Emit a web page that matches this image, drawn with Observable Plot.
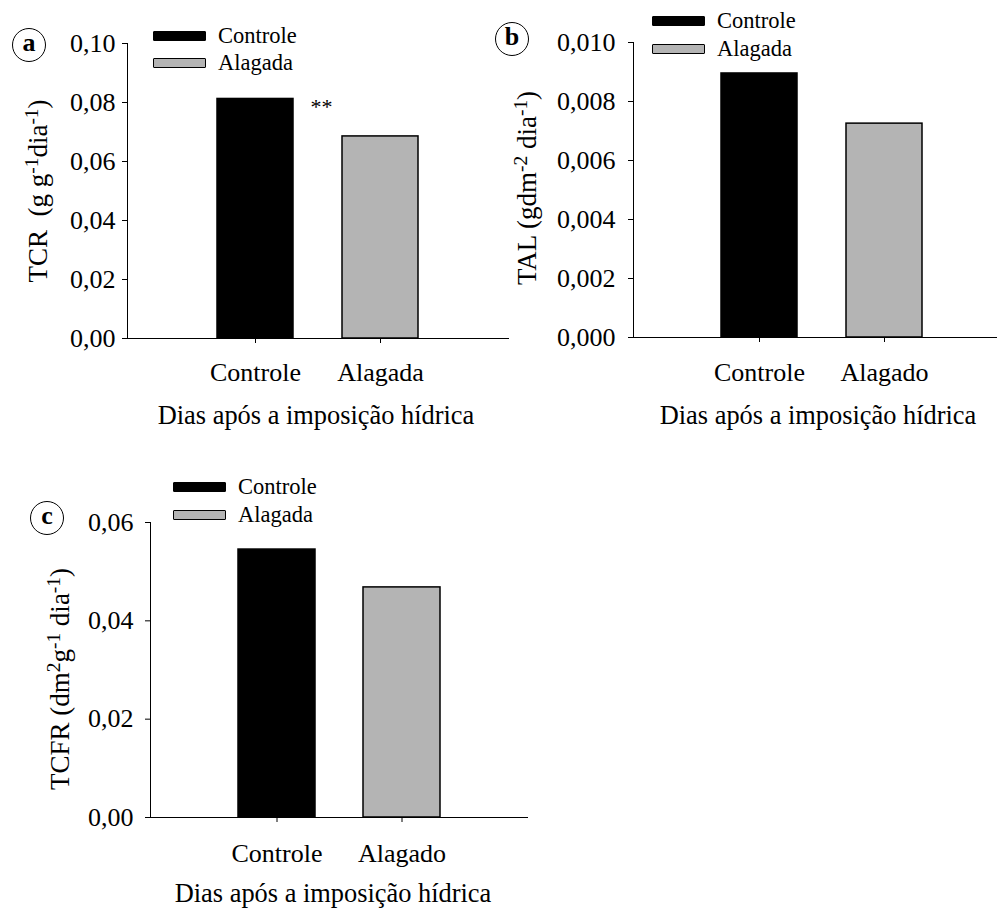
<!DOCTYPE html>
<html>
<head>
<meta charset="utf-8">
<script src="https://cdn.jsdelivr.net/npm/d3@7"></script>
<script src="https://cdn.jsdelivr.net/npm/@observablehq/plot@0.6"></script>
<style>
  html, body { margin: 0; padding: 0; background: #fff; overflow: hidden; }
  #root { position: relative; width: 997px; height: 915px; font-family: "Liberation Serif", "Times New Roman", serif; color: #000; }
  .abs { position: absolute; white-space: nowrap; line-height: 1; }
  .ylab { transform: translate(-50%, -50%) rotate(-90deg); font-size: 27px; }
  .xlab { transform: translate(-50%, -50%); font-size: 26.4px; }
  .sup { font-size: 0.72em; position: relative; top: -0.45em; }
  .letter { transform: translate(-50%, -50%); width: 34px; height: 34px; border: 1.8px solid #000; border-radius: 50%;
            font-weight: bold; font-size: 26px; display: flex; align-items: center; justify-content: center; box-sizing: border-box; padding-bottom: 4px; }
  .sw { position: absolute; width: 53px; height: 10px; box-sizing: border-box; border-radius: 1px; }
  .legtxt { font-size: 22.5px; transform: translateY(-50%); }
  svg { position: absolute; }
</style>
</head>
<body>
<div id="root"></div>
<script>
// ---- data ----
const catsA = ["Controle", "Alagada"];
const catsB = ["Controle", "Alagado"];
const catsC = ["Controle", "Alagado"];
const tcr  = [0.0812, 0.0685];
const tal  = [0.00895, 0.00725];
const tcfr = [0.0545, 0.0468];
const ticksA = [0, 0.02, 0.04, 0.06, 0.08, 0.10];
const ticksB = [0, 0.002, 0.004, 0.006, 0.008, 0.010];
const ticksC = [0, 0.02, 0.04, 0.06];
const legendLabels = ["Controle", "Alagada"];
const signifA = ["**", ""];
const barColors = ["#000000", "#b4b4b4"];
const xTitle = "Dias após a imposição hídrica";

const root = document.getElementById("root");

function fmt(digits) { return d => d.toFixed(digits).replace(".", ","); }

function panel(o) {
  const data = o.cats.map((c, i) => ({cat: c, value: o.values[i], sig: o.sig ? o.sig[i] : ""}));
  const marks = [
    Plot.barY(data, {x: "cat", y: "value", fill: "cat", stroke: "#000", strokeWidth: 1.5})
  ];
  if (o.sig) {
    marks.push(Plot.text(data, {x: "cat", y: "value", text: "sig", dx: 66, dy: 8, fontSize: 22}));
  }
  const svg = Plot.plot({
    width: o.width, height: o.height,
    marginLeft: o.mL, marginRight: o.mR, marginTop: o.mT, marginBottom: o.mB,
    style: {fontFamily: "'Liberation Serif', 'Times New Roman', serif", fontSize: "26px", color: "#000", background: "transparent", overflow: "visible"},
    x: {domain: o.cats, paddingInner: o.pi, paddingOuter: o.po, align: o.align, label: null, tickSize: 5, tickPadding: o.xPad, line: true},
    y: {domain: [0, o.ticks[o.ticks.length - 1]], ticks: o.ticks, tickFormat: fmt(o.digits), tickSize: 5, tickPadding: o.yPad, label: null, line: true},
    color: {domain: o.cats, range: barColors},
    marks
  });
  svg.style.left = o.left + "px";
  svg.style.top = o.top + "px";
  root.appendChild(svg);
}

function addDiv(cls, html, x, y) {
  const d = document.createElement("div");
  d.className = "abs " + cls;
  d.innerHTML = html;
  d.style.left = x + "px";
  d.style.top = y + "px";
  root.appendChild(d);
  return d;
}

function legend(x, y0, y1) {
  [y0, y1].forEach((y, i) => {
    const s = document.createElement("div");
    s.className = "sw";
    s.style.left = x + "px";
    s.style.top = (y - 5) + "px";
    s.style.background = barColors[i];
    s.style.border = "1.8px solid #000";
    root.appendChild(s);
    addDiv("legtxt", legendLabels[i], x + 65, y);
  });
}

// Panel a
panel({cats: catsA, values: tcr, ticks: ticksA, digits: 2, sig: signifA,
  left: 0, top: 0, width: 510, height: 470, mL: 127, mR: 2, mT: 43, mB: 132,
  pi: 0.392, po: 0.72, align: 0.5, yPad: 7, xPad: 19});
// Panel b
panel({cats: catsB, values: tal, ticks: ticksB, digits: 3,
  left: 500, top: 0, width: 497, height: 470, mL: 133, mR: 0, mT: 42, mB: 133,
  pi: 0.393, po: 0.642, align: 0.54, yPad: 13, xPad: 20});
// Panel c
panel({cats: catsC, values: tcfr, ticks: ticksC, digits: 2,
  left: 0, top: 480, width: 530, height: 435, mL: 150, mR: 3, mT: 42, mB: 98,
  pi: 0.386, po: 0.695, align: 0.5, yPad: 12, xPad: 21});

// y labels
addDiv("ylab", 'TCR&nbsp; (g g<span class="sup">-1</span>dia<span class="sup">-1</span>)', 38, 191);
addDiv("ylab", 'TAL (gdm<span class="sup">-2</span> dia<span class="sup">-1</span>)', 527, 188);
addDiv("ylab", 'TCFR (dm<span class="sup">2</span>g<span class="sup">-1</span> dia<span class="sup">-1</span>)', 60, 679);

// x titles
addDiv("xlab", xTitle, 316, 415);
addDiv("xlab", xTitle, 818, 415);
addDiv("xlab", xTitle, 333, 893);

// panel letters
addDiv("letter", "a", 29, 45);
addDiv("letter", "b", 512, 39);
addDiv("letter", "c", 47, 518);

// legends
legend(153, 36, 63);
legend(652, 21, 49);
legend(173, 487, 515);
</script>
</body>
</html>
